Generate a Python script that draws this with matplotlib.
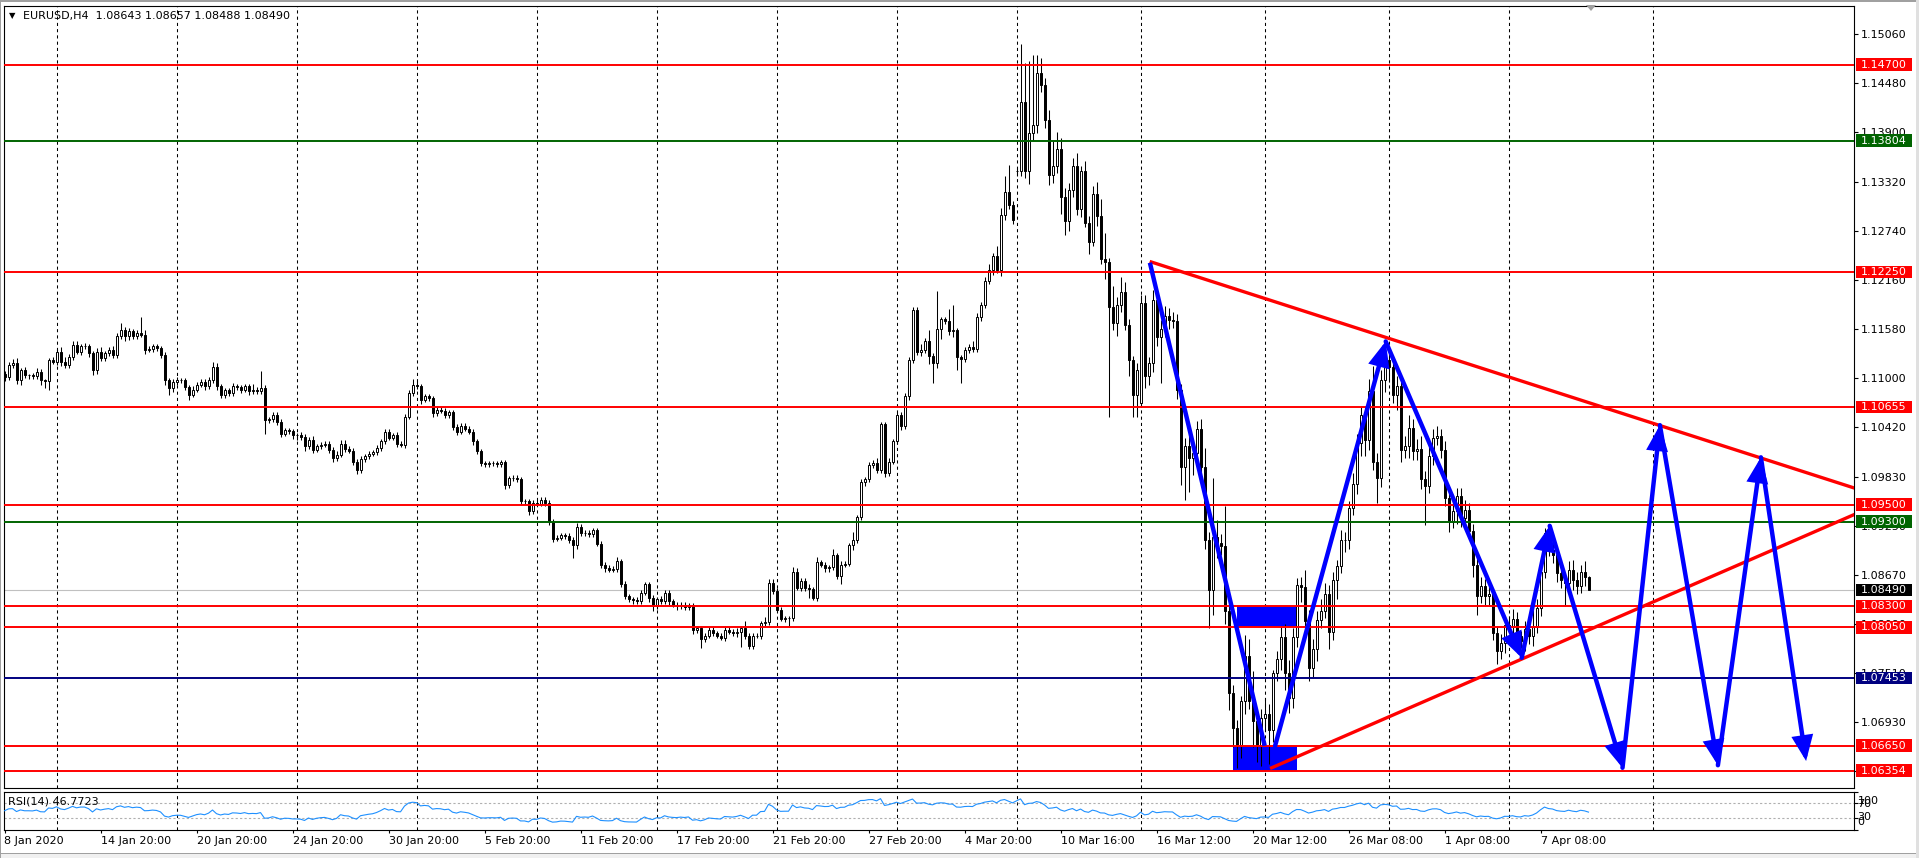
import matplotlib
matplotlib.use("Agg")
import matplotlib.pyplot as plt
import matplotlib.transforms as mtransforms
from matplotlib.patches import Rectangle, FancyArrowPatch, Polygon
import numpy as np

W, H, DPI = 1919, 858, 100

SYMBOL_TITLE = "EURUSD,H4  1.08643 1.08657 1.08488 1.08490"
RSI_TITLE = "RSI(14) 46.7723"

# H4 closes in pips (price * 10000), one per bar from 8 Jan 2020 20:00
CLOSE = [
    11101, 11115, 11117, 11097, 11109, 11103, 11103, 11102, 11107, 11097,
    11096, 11121, 11119, 11131, 11119, 11115, 11125, 11139, 11131, 11137,
    11137, 11129, 11109, 11131, 11123, 11129, 11133, 11127, 11149, 11157,
    11149, 11155, 11149, 11153, 11151, 11133, 11134, 11137, 11135, 11127,
    11097, 11088, 11095, 11097, 11097, 11089, 11080, 11086, 11092, 11095,
    11090, 11097, 11113, 11090, 11080, 11085, 11082, 11090, 11089, 11086,
    11090, 11084, 11085, 11084, 11088, 11050, 11051, 11056, 11048, 11034,
    11038, 11037, 11032, 11032, 11030, 11019, 11027, 11015, 11019, 11021,
    11022, 11015, 11005, 11009, 11022, 11016, 11014, 11001, 10991, 11004,
    11007, 11010, 11012, 11017, 11025, 11036, 11029, 11032, 11022, 11021,
    11054, 11082, 11092, 11090, 11074, 11078, 11076, 11058, 11062, 11061,
    11056, 11059, 11042, 11036, 11043, 11040, 11036, 11025, 11013, 10999,
    10998, 10999, 10999, 10998, 11000, 10973, 10981, 10982, 10980, 10954,
    10954, 10942, 10952, 10951, 10956, 10952, 10930, 10910, 10911, 10914,
    10913, 10908, 10902, 10924, 10916, 10917, 10915, 10920, 10904, 10879,
    10875, 10873, 10874, 10883, 10856, 10842, 10838, 10837, 10836, 10846,
    10856, 10840, 10830, 10838, 10836, 10846, 10836, 10832, 10830, 10832,
    10829, 10831, 10802, 10804, 10791, 10795, 10802, 10798, 10795, 10793,
    10802, 10800, 10798, 10800, 10804, 10795, 10783, 10795, 10795, 10810,
    10811, 10858, 10848, 10826, 10815, 10816, 10816, 10871, 10852, 10860,
    10852, 10850, 10840, 10882, 10879, 10875, 10876, 10890, 10866, 10879,
    10880, 10902, 10908, 10935, 10977, 10980, 10997, 10999, 10991, 11045,
    10987, 11001, 11025, 11056, 11043, 11078, 11121, 11180, 11131, 11133,
    11144, 11126, 11118, 11158, 11169, 11167, 11155, 11156, 11124, 11122,
    11133, 11136, 11134, 11172, 11186, 11214, 11228, 11244, 11228, 11293,
    11320, 11304, 11287, 11344, 11426, 11344, 11389, 11399, 11460, 11446,
    11405, 11340, 11350, 11371, 11314, 11285, 11322, 11350, 11300, 11344,
    11283, 11261, 11317, 11291, 11241, 11237, 11184, 11165, 11186, 11201,
    11163, 11121, 11080, 11109, 11188, 11102, 11117, 11192, 11148, 11158,
    11173, 11168, 11167, 11085, 10995, 11019, 11005, 11011, 11039, 10995,
    10908, 10849, 10912, 10905, 10901, 10824, 10727, 10686, 10666, 10718,
    10771, 10718, 10694, 10666, 10698, 10702, 10684, 10751, 10767, 10794,
    10751, 10722, 10794, 10855, 10853, 10812, 10757, 10779, 10814, 10824,
    10845, 10800, 10861, 10877, 10908, 10908, 10946, 10975, 11023, 11056,
    11027, 11084, 11001, 10981, 11097, 11121, 11113, 11080, 11090, 11015,
    11019, 11041, 11013, 11016, 10980, 10972, 11007, 11029, 11031, 11015,
    10958, 10930, 10942, 10960, 10934, 10944, 10919, 10879, 10842, 10854,
    10842, 10844, 10798, 10777, 10787, 10808, 10807, 10815, 10795, 10789,
    10803, 10795, 10806, 10828, 10871, 10917, 10897, 10891, 10869, 10861,
    10857, 10873, 10861, 10854, 10871, 10864, 10849,
]
# wick lengths in pips above max(open, close) and below min(open, close)
UPPER_WICK = [
    3, 4, 5, 6, 3, 4, 2, 3, 4, 3, 2, 2, 4, 3, 5, 6, 3, 5, 4, 3,
    4, 3, 3, 4, 5, 3, 3, 4, 4, 8, 3, 4, 3, 4, 19, 5, 3, 3, 3, 3,
    4, 3, 4, 4, 3, 3, 3, 4, 3, 4, 3, 4, 6, 4, 3, 3, 3, 4, 3, 3,
    3, 3, 8, 4, 20, 4, 3, 3, 4, 3, 3, 3, 3, 3, 4, 3, 3, 4, 3, 3,
    3, 3, 3, 4, 4, 5, 3, 3, 3, 3, 3, 3, 3, 4, 3, 4, 3, 3, 4, 3,
    3, 4, 6, 4, 3, 3, 3, 3, 3, 3, 3, 3, 3, 3, 3, 3, 3, 3, 3, 3,
    3, 3, 3, 3, 3, 3, 3, 3, 3, 3, 3, 3, 3, 3, 3, 3, 3, 3, 3, 3,
    3, 3, 4, 4, 3, 3, 3, 3, 3, 3, 3, 4, 3, 5, 3, 4, 3, 3, 4, 3,
    3, 3, 3, 3, 4, 3, 3, 3, 3, 3, 3, 3, 3, 3, 3, 3, 3, 3, 3, 3,
    3, 3, 3, 4, 3, 8, 3, 3, 3, 3, 6, 4, 4, 3, 3, 3, 3, 5, 4, 3,
    3, 4, 3, 6, 3, 3, 3, 8, 3, 4, 3, 3, 10, 3, 3, 3, 3, 4, 6, 3,
    3, 4, 3, 4, 3, 4, 3, 4, 4, 7, 3, 12, 3, 45, 3, 3, 14, 30, 3, 3,
    3, 4, 8, 5, 4, 5, 6, 4, 12, 8, 18, 32, 5, 5, 69, 46, 85, 83, 22, 18,
    8, 12, 30, 20, 12, 10, 8, 10, 16, 6, 12, 8, 10, 14, 20, 30, 5, 25, 10, 18,
    12, 6, 5, 8, 10, 10, 8, 12, 6, 10, 12, 10, 10, 8, 8, 10, 14, 14, 10, 12,
    22, 10, 69, 20, 10, 47, 15, 10, 10, 6, 25, 20, 35, 15, 10, 20, 12, 4, 10, 12,
    15, 15, 10, 8, 10, 20, 14, 12, 10, 15, 12, 10, 10, 8, 12, 10, 8, 12, 10, 10,
    10, 14, 30, 10, 12, 22, 12, 10, 12, 10, 12, 15, 10, 12, 15, 10, 12, 10, 12, 8,
    10, 8, 15, 10, 10, 12, 8, 8, 10, 10, 8, 12, 6, 8, 10, 8, 10, 12, 8, 6,
    10, 12, 20, 10, 8, 6, 7, 8, 10, 12, 8, 10, 12, 10, 8, 12, 2,
]
LOWER_WICK = [
    5, 4, 3, 4, 5, 3, 4, 3, 4, 6, 8, 10, 3, 4, 5, 3, 3, 4, 3, 4,
    3, 4, 6, 4, 3, 3, 3, 4, 4, 3, 5, 4, 3, 3, 3, 5, 3, 4, 3, 4,
    6, 8, 5, 4, 3, 4, 6, 3, 3, 3, 4, 3, 3, 4, 4, 4, 4, 3, 3, 4,
    3, 4, 3, 3, 3, 16, 4, 3, 4, 4, 3, 4, 4, 5, 3, 6, 3, 4, 3, 3,
    3, 4, 4, 3, 3, 4, 3, 4, 5, 3, 3, 3, 3, 3, 3, 3, 3, 3, 4, 3,
    4, 3, 3, 3, 5, 3, 4, 4, 3, 3, 3, 3, 4, 4, 3, 3, 3, 4, 3, 3,
    3, 3, 3, 3, 4, 5, 3, 3, 3, 4, 3, 4, 3, 3, 3, 3, 4, 4, 3, 3,
    3, 3, 15, 4, 3, 3, 3, 3, 3, 4, 4, 3, 3, 4, 3, 3, 3, 4, 3, 3,
    3, 5, 6, 3, 3, 3, 4, 3, 4, 3, 3, 3, 5, 4, 10, 3, 3, 3, 3, 3,
    4, 3, 3, 4, 18, 4, 3, 3, 3, 4, 4, 3, 3, 3, 3, 4, 10, 4, 3, 4,
    4, 10, 3, 4, 3, 5, 4, 3, 4, 10, 3, 3, 5, 3, 3, 5, 3, 4, 3, 4,
    4, 3, 3, 3, 5, 4, 4, 3, 4, 5, 4, 10, 24, 6, 12, 3, 4, 7, 15, 28,
    3, 4, 4, 3, 5, 4, 3, 6, 4, 8, 6, 5, 5, 5, 6, 8, 15, 8, 10, 8,
    10, 12, 10, 8, 20, 16, 12, 8, 8, 10, 5, 15, 5, 12, 6, 20, 130, 8, 16, 8,
    6, 19, 26, 26, 4, 14, 10, 10, 10, 54, 10, 10, 8, 10, 22, 39, 40, 20, 16, 18,
    10, 45, 29, 18, 10, 15, 20, 22, 27, 15, 15, 10, 30, 20, 25, 15, 40, 15, 10, 12,
    20, 18, 12, 12, 18, 14, 16, 12, 14, 10, 8, 20, 10, 22, 8, 14, 10, 8, 12, 15,
    20, 12, 10, 29, 10, 14, 18, 10, 18, 15, 10, 14, 10, 10, 12, 46, 8, 10, 8, 10,
    10, 12, 8, 15, 10, 10, 8, 15, 22, 8, 10, 12, 8, 15, 10, 12, 8, 10, 12, 8,
    12, 10, 12, 8, 10, 8, 8, 10, 10, 10, 27, 10, 12, 10, 8, 10, 0,
]
FIRST_OPEN = 11105
GAP_OPENS = {253: 11344, 284: 11070}

# horizontal levels (price, colour)
HLINE_PRICES = [1.14700, 1.13804, 1.12250, 1.10655, 1.09500, 1.09300,
                1.08300, 1.08050, 1.07453, 1.06650, 1.06354]
HLINE_COLORS = ["#FF0000", "#006400", "#FF0000", "#FF0000", "#FF0000", "#006400",
                "#FF0000", "#FF0000", "#000080", "#FF0000", "#FF0000"]
LAST_PRICE = 1.08490

Y_TICKS = [1.15060, 1.14480, 1.13900, 1.13320, 1.12740, 1.12160, 1.11580, 1.11000,
           1.10420, 1.09830, 1.09250, 1.08670, 1.08090, 1.07510, 1.06930, 1.06350]

DATE_BARS = [0, 24, 48, 72, 96, 120, 144, 168, 192, 216, 240, 264, 288, 312, 336, 360, 384]
DATE_LABELS = ["8 Jan 2020", "14 Jan 20:00", "20 Jan 20:00", "24 Jan 20:00", "30 Jan 20:00",
               "5 Feb 20:00", "11 Feb 20:00", "17 Feb 20:00", "21 Feb 20:00", "27 Feb 20:00",
               "4 Mar 20:00", "10 Mar 16:00", "16 Mar 12:00", "20 Mar 12:00", "26 Mar 08:00",
               "1 Apr 08:00", "7 Apr 08:00"]
GRID_BARS = [13, 43, 73, 103, 133, 163, 193, 223, 253, 284, 315, 346, 376, 412]

# trend lines (two anchors each, bar index / price), extended to the right edge
TREND_UPPER = [(286.3, 1.12375), (345.3, 1.11478)]
TREND_LOWER = [(316.4, 1.06382), (462.4, 1.09383)]

# blue zig-zag: first leg is a plain line, the rest are arrows
ZIGZAG_LINE = [(286.35, 1.1236), (315.05, 1.0665)]
ZIGZAG_ARROWS = [(317.65, 1.0665), (345.3, 1.1143), (379.3, 1.0769), (386.3, 1.0925),
                 (404.5, 1.0639), (413.85, 1.1044), (428.35, 1.0642), (439.1, 1.1006),
                 (450.4, 1.0647)]

# blue rectangles: (bar_from, bar_to, price_low, price_high)
RECT_X0 = [308.05, 307.05]
RECT_X1 = [323.05, 323.05]
RECT_Y0 = [1.08050, 1.06354]
RECT_Y1 = [1.08300, 1.06650]

RSI_PERIOD = 14
RSI_LEVELS = [70, 30]

# ---------------------------------------------------------------- figure
fig = plt.figure(figsize=(W / DPI, H / DPI), dpi=DPI)
fig.patch.set_facecolor("white")


def fx(px):
    return px / W


def fy(py):
    return 1 - py / H


L_PX, R_PX = 4, 1854
ax = fig.add_axes([fx(L_PX), fy(788), fx(R_PX) - fx(L_PX), fy(6) - fy(788)])
rax = fig.add_axes([fx(L_PX), fy(830), fx(R_PX) - fx(L_PX), fy(791.5) - fy(830)])

XL = (-0.125, 462.375)
YL = (1.06151, 1.15395)
ax.set_xlim(XL)
ax.set_ylim(YL)
rax.set_xlim(XL)
rax.set_ylim(0, 100)

for a in (ax, rax):
    a.set_facecolor("white")
    for s in a.spines.values():
        s.set_linewidth(0.8)
        s.set_color("black")

# grid (weekly dashed verticals)
for a in (ax, rax):
    a.vlines(GRID_BARS, 0, 1, transform=a.get_xaxis_transform(), colors="black",
             linestyles=(0, (3, 3)), linewidth=0.75, zorder=1)

# candles
n = len(CLOSE)
idx = np.arange(n)
c = np.array(CLOSE, dtype=float) / 1e4
o = np.empty(n)
o[0] = FIRST_OPEN / 1e4
o[1:] = c[:-1]
for k, v in GAP_OPENS.items():
    o[k] = v / 1e4
top = np.maximum(o, c)
bot = np.minimum(o, c)
hi = top + np.array(UPPER_WICK) / 1e4
lo = bot - np.array(LOWER_WICK) / 1e4

# rectangles (background objects)
for x0, x1, y0, y1 in zip(RECT_X0, RECT_X1, RECT_Y0, RECT_Y1):
    ax.add_patch(Rectangle((x0, y0), x1 - x0, y1 - y0, facecolor="#0000FF",
                           edgecolor="none", zorder=2))

ax.axhline(LAST_PRICE, color="#C0C0C0", linewidth=0.8, zorder=2.2)

ax.vlines(idx, lo, hi, colors="black", linewidth=0.75, zorder=3)
up = c >= o
ax.bar(idx[up], (top - bot)[up], bottom=bot[up], width=0.5, color="white",
       edgecolor="black", linewidth=0.7, zorder=4)
ax.bar(idx[~up], (top - bot)[~up], bottom=bot[~up], width=0.5, color="black",
       edgecolor="black", linewidth=0.7, zorder=4)

# horizontal levels
for p, col in zip(HLINE_PRICES, HLINE_COLORS):
    ax.axhline(p, color=col, linewidth=1.4, zorder=5)


# trend lines
def ray(anchors):
    (x0, y0), (x1, y1) = anchors
    slope = (y1 - y0) / (x1 - x0)
    xe = XL[1] + 2
    return [x0, xe], [y0, y0 + slope * (xe - x0)]


for tl in (TREND_UPPER, TREND_LOWER):
    xs, ys = ray(tl)
    ax.plot(xs, ys, color="#FF0000", linewidth=2.4, zorder=6, solid_capstyle="butt")

# zig-zag
ax.plot([p[0] for p in ZIGZAG_LINE], [p[1] for p in ZIGZAG_LINE], color="#0000FF",
        linewidth=3.2, zorder=7, solid_capstyle="butt")
for (x0, y0), (x1, y1) in zip(ZIGZAG_ARROWS[:-1], ZIGZAG_ARROWS[1:]):
    arr = FancyArrowPatch((x0, y0), (x1, y1),
                          arrowstyle="-|>,head_length=1.3,head_width=0.55",
                          mutation_scale=10, color="#0000FF", linewidth=3.2,
                          shrinkA=0, shrinkB=0, zorder=7, joinstyle="miter")
    ax.add_patch(arr)

# right price axis
ax.set_xticks([])
ax.yaxis.tick_right()
ax.set_yticks(Y_TICKS)
ax.set_yticklabels([f"{v:.5f}" for v in Y_TICKS])
ax.tick_params(axis="y", length=3, width=0.8, pad=2, labelsize=8, direction="out",
               colors="black")

# level boxes on the price axis
btrans = mtransforms.blended_transform_factory(ax.transAxes, ax.transData)
box_x0 = (1856 - L_PX) / (R_PX - L_PX)
box_w = 56 / (R_PX - L_PX)
box_h = 12.7 / ((788 - 6) / (YL[1] - YL[0]))
for p, col in list(zip(HLINE_PRICES, HLINE_COLORS)) + [(LAST_PRICE, "#000000")]:
    ax.add_patch(Rectangle((box_x0, p - box_h / 2), box_w, box_h, transform=btrans,
                           facecolor=col, edgecolor="none", clip_on=False, zorder=8))
    ax.text(box_x0 + box_w / 2, p, f"{p:.5f}", transform=btrans, color="white",
            fontsize=8, ha="center", va="center", clip_on=False, zorder=9)

# RSI panel
ag, al = 0.0005, 0.0005
rsi = [50.0]
for i in range(1, n):
    d = c[i] - c[i - 1]
    ag = (ag * (RSI_PERIOD - 1) + max(d, 0)) / RSI_PERIOD
    al = (al * (RSI_PERIOD - 1) + max(-d, 0)) / RSI_PERIOD
    rsi.append(100 - 100 / (1 + ag / al))
rax.plot(idx, rsi, color="#1E90FF", linewidth=0.8, zorder=3)
for lv in RSI_LEVELS:
    rax.axhline(lv, color="#B0B0B0", linestyle=(0, (2, 2)), linewidth=0.8, zorder=2)

rax.yaxis.tick_right()
rax.set_yticks([0, 30, 70, 100])
rax.set_yticklabels([])
rax.tick_params(axis="y", length=3, width=0.8, direction="out")
rax.set_xticks(DATE_BARS)
rax.set_xticklabels(DATE_LABELS, ha="left")
rax.tick_params(axis="x", length=2.5, width=0.8, pad=1.5, labelsize=8, direction="out")

rtrans = mtransforms.blended_transform_factory(rax.transAxes, rax.transData)
rx = (1857.5 - L_PX) / (R_PX - L_PX)
for txt, yv in (("100", 76.6), ("70", 67.5), ("30", 32.5), ("0", 20.8)):
    rax.text(rx, yv, txt, transform=rtrans, fontsize=8, ha="left", va="center",
             clip_on=False)

fig.text(fx(8), fy(801), RSI_TITLE, fontsize=8, ha="left", va="center")
fig.text(fx(9), fy(16), "\u25BC", fontsize=6, ha="left", va="center")
fig.text(fx(23), fy(16), SYMBOL_TITLE, fontsize=8, ha="left", va="center")

# chart-shift marker and window borders
fig.add_artist(Polygon([[fx(1586), fy(5)], [fx(1596), fy(5)], [fx(1591), fy(11)]],
                       closed=True, transform=fig.transFigure, facecolor="#A0A0A0",
                       edgecolor="none"))
fig.add_artist(Rectangle((0, fy(1.5)), 1, 1.5 / H, transform=fig.transFigure,
                         facecolor="#A0A0A0", edgecolor="none"))
fig.add_artist(Rectangle((0, 0), 1, 5 / H, transform=fig.transFigure,
                         facecolor="#F0F0F0", edgecolor="none"))
fig.add_artist(Rectangle((0, fy(853.5)), 1, 1 / H, transform=fig.transFigure,
                         facecolor="#A0A0A0", edgecolor="none"))
fig.add_artist(Rectangle((0, 0), 1.2 / W, 1, transform=fig.transFigure,
                         facecolor="#A0A0A0", edgecolor="none"))
fig.add_artist(Rectangle((fx(1916), 0), 3 / W, 1, transform=fig.transFigure,
                         facecolor="#E0E0E0", edgecolor="none"))

fig.savefig("out.png", dpi=DPI, facecolor="white")
